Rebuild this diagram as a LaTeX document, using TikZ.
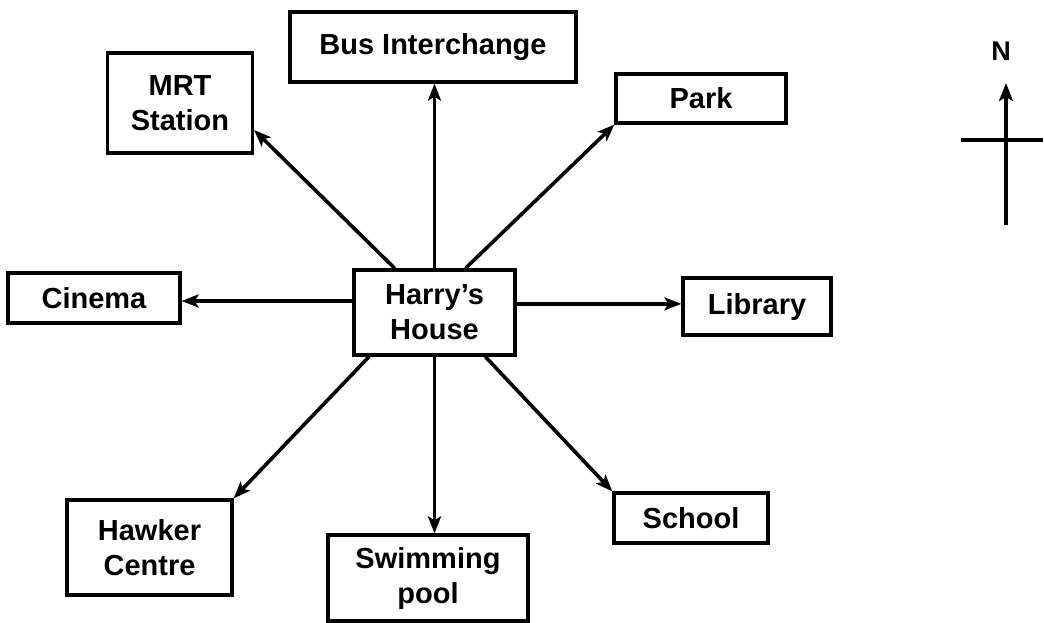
\documentclass[tikz,border=0pt]{standalone}
\usepackage{fontspec}
\setmainfont{Liberation Sans}
\usetikzlibrary{arrows.meta}
\begin{document}
\begin{tikzpicture}[x=1pt,y=-1pt,
  place/.style={draw, line width=3.2pt, inner sep=0pt, align=center,
    font=\fontsize{29}{35}\selectfont\bfseries},
  link/.style={line width=3.6pt, -{Stealth[length=17pt,width=13pt,inset=4pt]}}]
\fill[white] (0,0) rectangle (1044,622);
\useasboundingbox (0,0) rectangle (1044,622);

\node[place, minimum width=286pt, minimum height=70pt] (bus) at (433,47) {Bus Interchange};
\node[place, minimum width=145pt, minimum height=100pt] (mrt) at (180,103) {MRT\\Station};
\node[place, minimum width=170pt, minimum height=49pt] (park) at (701,98.5) {Park};
\node[place, minimum width=172pt, minimum height=50pt] (cinema) at (94,298) {Cinema};
\node[place, minimum width=161pt, minimum height=85pt] (harry) at (434.5,312.5) {Harry’s\\House};
\node[place, minimum width=148pt, minimum height=57pt] (library) at (757,306.5) {Library};
\node[place, minimum width=165pt, minimum height=95pt] (hawker) at (149.5,547.5) {Hawker\\Centre};
\node[place, minimum width=200pt, minimum height=86pt] (swim) at (428,578) {Swimming\\pool};
\node[place, minimum width=154pt, minimum height=50pt] (school) at (691,518) {School};

\draw[link] (harry.north) -- (harry.north |- bus.south);
\draw[link] (harry.132) -- (mrt.-20);
\draw[link] (harry.55) -- (park.south west);
\draw[link] (harry.172) -- (cinema.east |- harry.172);
\draw[link] (harry.6) -- (library.west |- harry.6);
\draw[link] (harry.214) -- (hawker.north east);
\draw[link] (harry.south) -- (harry.south |- swim.north);
\draw[link] (harry.-41) -- (school.north west);

% compass
\node[font=\fontsize{27}{30}\selectfont\bfseries] (north) at (1001,51) {N};
\coordinate (ctop) at (1006,83);
\coordinate (cbot) at (1006,225);
\coordinate (cw) at (961,140);
\coordinate (ce) at (1043,140);
\draw[line width=4.5pt] (cw) -- (ce);
\draw[line width=4.5pt, -{Stealth[length=18pt,width=14pt,inset=4pt]}] (cbot) -- (ctop);
\end{tikzpicture}
\end{document}
